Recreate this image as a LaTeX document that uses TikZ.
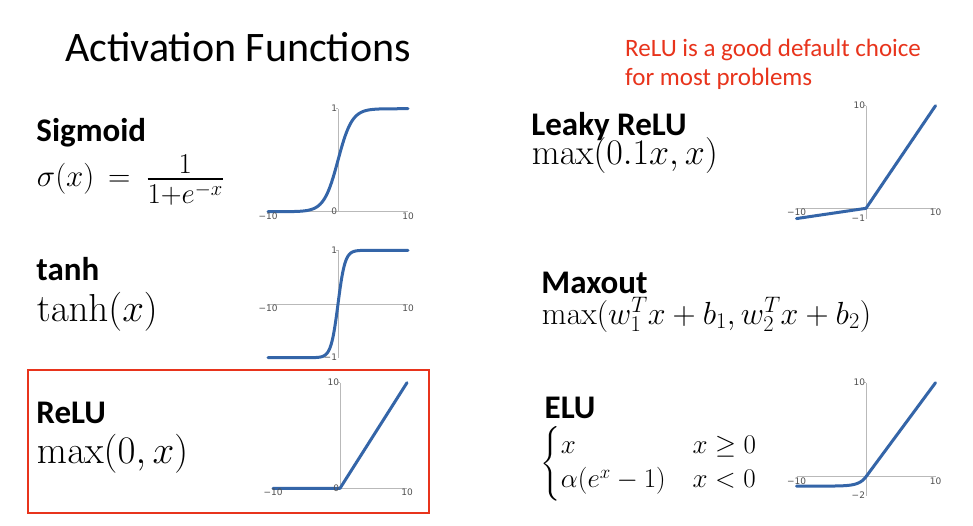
\RequirePackage{fix-cm}
\documentclass[tikz,border=0pt]{standalone}
\usepackage{amsmath}
\usepackage{graphicx}
\usepackage[no-math]{fontspec}
\newfontfamily\calibri{Carlito}
\newfontfamily\ticksans{DejaVu Sans}
\definecolor{slidered}{RGB}{232,52,28}
\definecolor{curveblue}{RGB}{52,101,168}
\definecolor{axisgray}{RGB}{185,185,185}
\definecolor{ticktext}{RGB}{80,80,80}
\begin{document}
\begin{tikzpicture}[x=1pt,y=-1pt,
  txt/.style={inner sep=0pt, anchor=base west},
  lbl/.style={txt, font=\calibri\bfseries\fontsize{33}{39}\selectfont},
  curve/.style={curveblue, line width=3pt, line cap=round, line join=round},
  axis/.style={axisgray, line width=0.8pt},
  tick/.style={inner sep=0.8pt, font=\ticksans\fontsize{9}{10}\selectfont, text=ticktext}]
\useasboundingbox[fill=white] (0,0) rectangle (973,525);

% title and note
\node[txt, font=\calibri\fontsize{42}{50}\selectfont] (title) at (65,61.7) {Activation Functions};
\node[txt, font=\calibri\fontsize{25}{30}\selectfont, text=slidered] (note1) at (625,56.7) {ReLU is a good default choice};
\node[txt, font=\calibri\fontsize{25}{30}\selectfont, text=slidered] (note2) at (625,85) {for most problems};

% left column texts
\node[lbl] (siglbl) at (36.2,141.7) {Sigmoid};
\node[txt, font=\fontsize{31}{37}\selectfont] (sigf) at (36.7,186.7)
  {$\sigma(x)\mkern3mu=\mkern4mu\raisebox{-2.6pt}{\scalebox{1.33}{$\frac{1}{1+e^{-x}}$}}$};
\node[lbl] (tanhlbl) at (36.2,280) {tanh};
\node[txt, font=\fontsize{39}{46}\selectfont] (tanhf) at (36.7,321) {$\tanh(x)$};
\node[lbl] (relulbl) at (36.2,423.3) {ReLU};
\node[txt, font=\fontsize{39}{46}\selectfont] (reluf) at (36.7,463) {$\max(0,x)$};

% right column texts
\node[lbl] (leakylbl) at (531.2,135) {Leaky ReLU};
\node[txt, font=\fontsize{36}{43}\selectfont] (leakyf) at (531.7,164) {$\max(0.1x,x)$};
\node[lbl] (maxlbl) at (541.2,293.3) {Maxout};
\node[txt, font=\fontsize{32}{39}\selectfont] (maxf) at (541.7,324) {$\max(w_1^Tx+b_1,w_2^Tx+b_2)$};
\node[lbl] (elulbl) at (544.5,418.3) {ELU};
\node[inner sep=0pt, anchor=west, font=\fontsize{27}{28.5}\selectfont] (eluf) at (540.7,464)
  {$\begin{cases} x & x\geq 0\\ \alpha(e^x-1) & x<0\end{cases}$};

% red highlight box
\draw[slidered, line width=2pt] (28.3,370) rectangle (429.3,512.7);

% sigmoid plot
\begin{scope}[xshift=338pt, yshift=-211.7pt, x=7pt, y=103pt]
  \draw[axis] (-10,0) -- (10,0);
  \draw[axis] (0,0) -- (0,1);
  \draw[axis] (0,1) -- ++(-2pt,0);
  \draw[curve] (-10,0) -- plot[domain=-8:8, samples=100, smooth] (\x,{1/(1+exp(-\x))}) -- (10,1);
  \node[tick, anchor=east] (sg1) at (0,1) {1};
  \node[tick, anchor=east] (sg0) at (0,0) {0};
  \node[tick, anchor=north] (sgl) at (-10,0) {−10};
  \node[tick, anchor=north] (sgr) at (10,0) {10};
\end{scope}

% tanh plot
\begin{scope}[xshift=338pt, yshift=-304pt, x=7pt, y=53.7pt]
  \draw[axis] (-10,0) -- (10,0);
  \draw[axis] (0,-1) -- (0,1);
  \draw[axis] (0,1) -- ++(-2pt,0);
  \draw[curve] (-10,-1) -- plot[domain=-4.5:4.5, samples=100, smooth] (\x,{(exp(2*\x)-1)/(exp(2*\x)+1)}) -- (10,1);
  \node[tick, anchor=east] (th1) at (0,1) {1};
  \node[tick, anchor=east] (thm1) at (0,-1) {−1};
  \node[tick, anchor=north] (thl) at (-10,0) {−10};
  \node[tick, anchor=north] (thr) at (10,0) {10};
\end{scope}

% ReLU plot
\begin{scope}[xshift=340pt, yshift=-488.3pt, x=6.7pt, y=10.56pt]
  \draw[axis] (-10,0) -- (10,0);
  \draw[axis] (0,0) -- (0,10);
  \draw[axis] (0,10) -- ++(-2pt,0);
  \draw[curve] (-10,0) -- (0,0) -- (10,10);
  \node[tick, anchor=east] (rl10) at (0,10) {10};
  \node[tick, anchor=east] (rl0) at (0,0) {0};
  \node[tick, anchor=north] (rll) at (-10,0) {−10};
  \node[tick, anchor=north] (rlr) at (10,0) {10};
\end{scope}

% Leaky ReLU plot
\begin{scope}[xshift=866pt, yshift=-208.3pt, x=6.95pt, y=10.26pt]
  \draw[axis] (-10,0) -- (10,0);
  \draw[axis] (0,-1) -- (0,10);
  \draw[axis] (0,10) -- ++(-2pt,0);
  \node[tick, anchor=north] (lkl) at (-10,0) {−10};
  \node[tick, anchor=north] (lkr) at (10,0) {10};
  \draw[curve] (-10,-1) -- (0,0) -- (10,10);
  \node[tick, anchor=east] (lk10) at (0,10) {10};
  \node[tick, anchor=east] (lkm1) at (0,-1) {−1};
\end{scope}

% ELU plot
\begin{scope}[xshift=866pt, yshift=-476.7pt, x=6.95pt, y=9.4pt]
  \draw[axis] (-10,0) -- (10,0);
  \draw[axis] (0,-2) -- (0,10);
  \draw[axis] (0,10) -- ++(-2pt,0);
  \node[tick, anchor=north] (ell) at (-10,0) {−10};
  \node[tick, anchor=north] (elr) at (10,0) {10};
  \draw[curve] plot[domain=-10:0, samples=80, smooth] (\x,{exp(\x)-1}) -- (10,10);
  \node[tick, anchor=east] (el10) at (0,10) {10};
  \node[tick, anchor=east] (elm2) at (0,-2) {−2};
\end{scope}
\end{tikzpicture}
\end{document}
